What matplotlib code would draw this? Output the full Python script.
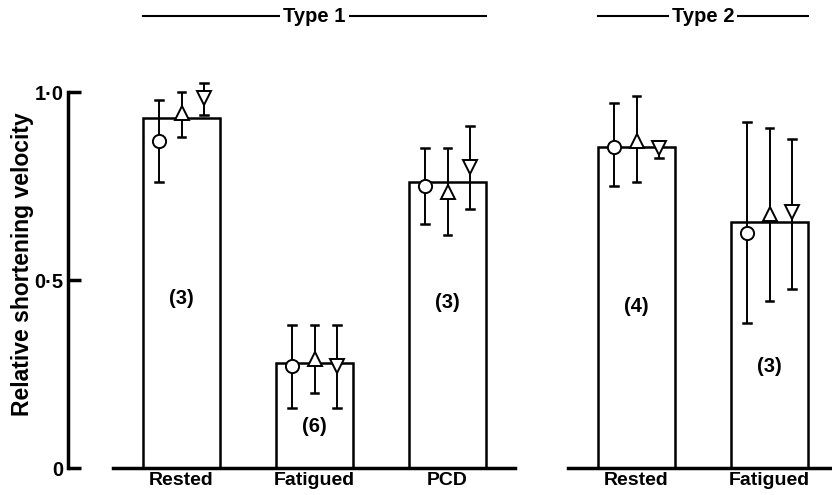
import matplotlib
matplotlib.use('Agg')
import matplotlib.pyplot as plt
import matplotlib.transforms as mtransforms

plt.rcParams['font.family'] = ['Liberation Sans', 'DejaVu Sans']
plt.rcParams['font.weight'] = 'bold'

# Type 1 fibres
cats1 = ['Rested', 'Fatigued', 'PCD']
bars1 = [0.93, 0.28, 0.76]
n1 = ['(3)', '(6)', '(3)']
n1_y = [0.45, 0.11, 0.44]
circ1 = [0.87, 0.27, 0.75]
circ1_lo = [0.76, 0.16, 0.65]
circ1_hi = [0.98, 0.38, 0.85]
up1 = [0.945, 0.29, 0.735]
up1_lo = [0.88, 0.20, 0.62]
up1_hi = [1.00, 0.38, 0.85]
down1 = [0.985, 0.27, 0.80]
down1_lo = [0.94, 0.16, 0.69]
down1_hi = [1.025, 0.38, 0.91]

# Type 2 fibres
cats2 = ['Rested', 'Fatigued']
bars2 = [0.855, 0.655]
n2 = ['(4)', '(3)']
n2_y = [0.43, 0.27]
circ2 = [0.855, 0.625]
circ2_lo = [0.75, 0.385]
circ2_hi = [0.97, 0.92]
up2 = [0.87, 0.675]
up2_lo = [0.76, 0.445]
up2_hi = [0.99, 0.905]
down2 = [0.85, 0.68]
down2_lo = [0.825, 0.475]
down2_hi = [0.87, 0.875]

W, H = 832, 495
fig = plt.figure(figsize=(W / 100, H / 100), dpi=100)

y0_px, y1_px = 468, 92          # pixel rows of 0 and 1.0
ytop = 1.2
unit = y0_px - y1_px
ax_bottom = (H - y0_px) / H
ax_height = ytop * unit / H

ax1 = fig.add_axes([68 / W, ax_bottom, (515 - 68) / W, ax_height])
ax2 = fig.add_axes([568 / W, ax_bottom, (W - 568) / W, ax_height])

step = 133.0  # pixels per category
ax1.set_xlim((68 - 181.5) / step, (515 - 181.5) / step)
ax2.set_xlim((568 - 636.5) / step, (W - 636.5) / step)

bar_w = 0.58
offs = [-0.17, 0.0, 0.17]
lw = 1.8
fs = 14.5


def draw_panel(ax, cats, bars, ns, ns_y, series):
    xs = list(range(len(cats)))
    ax.bar(xs, bars, width=bar_w, facecolor='white', edgecolor='black',
           linewidth=lw, zorder=2)
    for (vals, lo, hi, mk), off in zip(series, offs):
        for i, x in enumerate(xs):
            ax.plot([x + off, x + off], [lo[i], hi[i]], color='black',
                    lw=1.4, zorder=3, solid_capstyle='butt')
            for yy in (lo[i], hi[i]):
                ax.plot([x + off - 0.03, x + off + 0.03], [yy, yy],
                        color='black', lw=1.8, zorder=3)
            ax.plot(x + off, vals[i], marker=mk, ms=9.5, mfc='white',
                    mec='black', mew=1.4, zorder=4, linestyle='none')
    for x, t, yy in zip(xs, ns, ns_y):
        ax.text(x, yy, t, ha='center', va='center', fontsize=fs,
                fontweight='bold')
    ax.set_xticks(xs)
    ax.set_xticklabels(cats, fontsize=14, fontweight='bold')
    ax.tick_params(axis='x', length=0, pad=3)
    ax.set_ylim(0, ytop)
    for s in ('top', 'right'):
        ax.spines[s].set_visible(False)
    ax.spines['bottom'].set_linewidth(2.5)
    ax.set_facecolor('none')


draw_panel(ax1, cats1, bars1, n1, n1_y,
           [(circ1, circ1_lo, circ1_hi, 'o'),
            (up1, up1_lo, up1_hi, '^'),
            (down1, down1_lo, down1_hi, 'v')])
draw_panel(ax2, cats2, bars2, n2, n2_y,
           [(circ2, circ2_lo, circ2_hi, 'o'),
            (up2, up2_lo, up2_hi, '^'),
            (down2, down2_lo, down2_hi, 'v')])

# left axis: spine only up to 1.0, inward ticks
ax1.spines['left'].set_bounds(0, 1.0)
ax1.spines['left'].set_linewidth(2.5)
ax1.spines['bottom'].set_bounds((113 - 181.5) / step, ax1.get_xlim()[1])
ax1.set_yticks([0, 0.5, 1.0])
ax1.set_yticklabels(['0', '0·5', '1·0'], fontsize=fs, fontweight='bold')
ax1.tick_params(axis='y', direction='in', length=9, width=2.5, pad=3)
ax1.set_ylabel('Relative shortening velocity', fontsize=16.5,
               fontweight='bold')
ax1.yaxis.set_label_coords(-34 / (515 - 68), (468 - 264) / (ytop * unit))

ax2.spines['left'].set_visible(False)
ax2.set_yticks([])

# group headers
for ax, label, xc, xl, xr in ((ax1, 'Type 1', 1.0, -0.29, 2.29),
                              (ax2, 'Type 2', 0.5, -0.29, 1.29)):
    tr = mtransforms.blended_transform_factory(ax.transData, fig.transFigure)
    yy = (H - 16) / H
    ax.plot([xl, xr], [yy, yy], color='black', lw=1.5, transform=tr,
            clip_on=False)
    ax.text(xc, yy, label, transform=tr, ha='center', va='center',
            fontsize=14.5, fontweight='bold',
            bbox=dict(facecolor='white', edgecolor='none', pad=2))

fig.savefig('out.png', dpi=100)
